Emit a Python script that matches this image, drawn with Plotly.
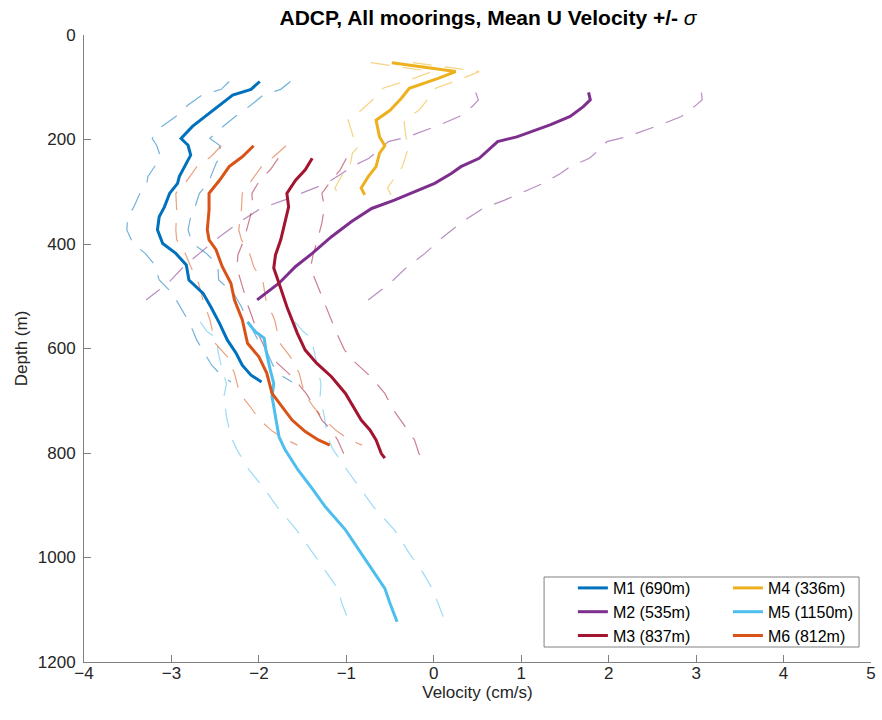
import plotly.graph_objects as go

# ---------------- data ----------------
names = ["M1 (690m)", "M2 (535m)", "M3 (837m)", "M4 (336m)", "M5 (1150m)", "M6 (812m)"]
colors = ["#0072BD", "#7E2F8E", "#A2142F", "#EDB120", "#4DBEEE", "#D95319"]

m1_depth = [89, 104, 115, 134, 156, 175, 198, 211, 230, 246, 271, 284, 303, 329, 348, 373, 399,
            418, 440, 469, 494, 520, 552, 584, 609, 632, 651, 664]
m1_u = [-1.99, -2.09, -2.30, -2.45, -2.61, -2.76, -2.89, -2.81, -2.78, -2.83, -2.91, -2.93, -3.02,
        -3.08, -3.14, -3.16, -3.10, -2.95, -2.83, -2.80, -2.64, -2.55, -2.45, -2.36, -2.26, -2.19,
        -2.09, -1.97]
m1_sd = [0.35, 0.34, 0.35, 0.36, 0.34, 0.35, 0.33, 0.36, 0.35, 0.34, 0.36, 0.35, 0.34, 0.35, 0.36,
         0.35, 0.34, 0.35, 0.36, 0.34, 0.35, 0.35, 0.34, 0.35, 0.36, 0.35, 0.34, 0.35]

m2_depth = [110, 124, 137, 156, 172, 185, 195, 204, 220, 236, 252, 265, 284, 297, 316, 332, 357,
            386, 418, 443, 475, 507]
m2_u = [1.77, 1.79, 1.71, 1.56, 1.33, 1.11, 0.95, 0.73, 0.63, 0.52, 0.31, 0.20, 0.01, -0.18,
        -0.45, -0.71, -0.94, -1.17, -1.39, -1.58, -1.77, -2.02]
m2_sd = [1.29, 1.28, 1.27, 1.27, 1.26, 1.25, 1.25, 1.25, 1.26, 1.26, 1.25, 1.25, 1.24, 1.25,
         1.26, 1.27, 1.27, 1.28, 1.29, 1.28, 1.27, 1.27]

m3_depth = [236, 258, 278, 303, 329, 360, 392, 421, 446, 475, 520, 571, 603, 628, 654, 686, 718,
            737, 756, 775, 801, 810]
m3_u = [-1.39, -1.47, -1.58, -1.68, -1.66, -1.70, -1.75, -1.81, -1.83, -1.77, -1.68, -1.56, -1.47,
        -1.34, -1.17, -1.01, -0.90, -0.83, -0.73, -0.66, -0.60, -0.56]
m3_sd = [0.39, 0.40, 0.41, 0.40, 0.41, 0.42, 0.42, 0.43, 0.42, 0.43, 0.44, 0.45, 0.45, 0.45,
         0.45, 0.45, 0.44, 0.45, 0.44, 0.44, 0.43, 0.43]

m4_depth = [53, 70, 83, 102, 121, 144, 163, 195, 212, 226, 252, 271, 293, 306]
m4_u = [-0.48, 0.25, 0.05, -0.28, -0.37, -0.50, -0.66, -0.62, -0.56, -0.62, -0.66, -0.75, -0.83,
        -0.79]
m4_sd = [0.24, 0.27, 0.28, 0.30, 0.31, 0.33, 0.32, 0.30, 0.29, 0.31, 0.30, 0.31, 0.30, 0.30]

m5_depth = [549, 568, 580, 603, 641, 667, 692, 731, 769, 794, 833, 868, 903, 947, 992, 1030, 1059,
            1088, 1123]
m5_u = [-2.13, -2.04, -1.94, -1.92, -1.87, -1.83, -1.85, -1.81, -1.77, -1.70, -1.55, -1.39, -1.24,
        -1.01, -0.83, -0.67, -0.56, -0.50, -0.42]
m5_sd = [0.54, 0.55, 0.54, 0.55, 0.55, 0.54, 0.55, 0.56, 0.55, 0.55, 0.56, 0.55, 0.55, 0.56,
         0.55, 0.55, 0.54, 0.55, 0.55]

m6_depth = [212, 233, 252, 278, 303, 335, 373, 392, 411, 443, 475, 507, 545, 590, 616, 647, 686,
            711, 737, 759, 775, 785]
m6_u = [-2.06, -2.19, -2.34, -2.45, -2.57, -2.57, -2.59, -2.57, -2.49, -2.42, -2.32, -2.28, -2.19,
        -2.13, -2.00, -1.91, -1.85, -1.74, -1.62, -1.47, -1.32, -1.19]
m6_sd = [0.37, 0.36, 0.37, 0.37, 0.38, 0.37, 0.36, 0.37, 0.37, 0.36, 0.37, 0.36, 0.37, 0.37,
         0.36, 0.37, 0.37, 0.36, 0.37, 0.37, 0.36, 0.37]

x_ticks = [-4, -3, -2, -1, 0, 1, 2, 3, 4, 5]
y_ticks = [0, 200, 400, 600, 800, 1000, 1200]

series = [
    (m1_depth, m1_u, m1_sd),
    (m2_depth, m2_u, m2_sd),
    (m3_depth, m3_u, m3_sd),
    (m4_depth, m4_u, m4_sd),
    (m5_depth, m5_u, m5_sd),
    (m6_depth, m6_u, m6_sd),
]
# legend laid out in two columns: M1 M2 M3 | M4 M5 M6
legend_column = ["legend", "legend", "legend", "legend2", "legend2", "legend2"]


def hex_rgba(h, a):
    h = h.lstrip("#")
    return "rgba(%d,%d,%d,%.2f)" % (int(h[0:2], 16), int(h[2:4], 16), int(h[4:6], 16), a)


fig = go.Figure()
for i, (dep, u, sd) in enumerate(series):
    lo = [a - s for a, s in zip(u, sd)]
    hi = [a + s for a, s in zip(u, sd)]
    for band in (lo, hi):
        fig.add_trace(go.Scatter(
            x=band, y=dep, mode="lines", showlegend=False, hoverinfo="skip",
            line=dict(color=hex_rgba(colors[i], 0.55), width=1.2, dash="19px,13px"),
        ))
for i, (dep, u, sd) in enumerate(series):
    fig.add_trace(go.Scatter(
        x=u, y=dep, mode="lines", name=names[i], legend=legend_column[i],
        line=dict(color=colors[i], width=3),
    ))

font_family = "Liberation Sans, Arial, Helvetica, sans-serif"
axis_common = dict(
    showline=True, linecolor="#808080", linewidth=1, ticks="inside", ticklen=7,
    tickcolor="#808080", tickwidth=1, showgrid=False, zeroline=False, mirror=False,
    tickfont=dict(size=17, color="#262626", family=font_family),
)

# plot-area pixel geometry used to place the legend box
PL, PR, PT, PB = 84, 876, 35, 662
PW, PH = PR - PL, PB - PT


def px_x(p):
    return (p - PL) / PW


def px_y(p):
    return (PB - p) / PH


legend_common = dict(
    orientation="v", xanchor="left", yanchor="top", bgcolor="rgba(0,0,0,0)", borderwidth=0,
    font=dict(size=16, color="#000000", family=font_family), tracegroupgap=0,
)

fig.update_layout(
    width=882, height=720,
    margin=dict(l=PL, r=882 - PR, t=PT, b=720 - PB),
    paper_bgcolor="white", plot_bgcolor="white",
    font=dict(family=font_family, color="#262626"),
    title=dict(
        text="<b>ADCP, All moorings, Mean U Velocity +/-</b> <i>σ</i>",
        x=(488 / 882), xanchor="center", y=1 - 18 / 720, yanchor="middle",
        font=dict(size=21, color="#000000", family=font_family),
    ),
    xaxis=dict(range=[-4, 5], tickvals=x_ticks, ticklabelstandoff=-4,
               title=dict(text="Velocity (cm/s)", font=dict(size=17, color="#262626"), standoff=0),
               **axis_common),
    yaxis=dict(range=[1200, 0], tickvals=y_ticks, ticklabelstandoff=4,
               title=dict(text="Depth (m)", font=dict(size=17, color="#262626"), standoff=5),
               **axis_common),
    legend=dict(x=px_x(576), y=px_y(571), **legend_common),
    legend2=dict(x=px_x(732), y=px_y(571), **legend_common),
    shapes=[dict(
        type="rect", xref="paper", yref="paper", layer="above",
        x0=px_x(547), x1=px_x(864), y0=px_y(647), y1=px_y(577),
        line=dict(color="#808080", width=1), fillcolor="white",
    )],
    showlegend=True,
)

fig.write_html("out.html")
